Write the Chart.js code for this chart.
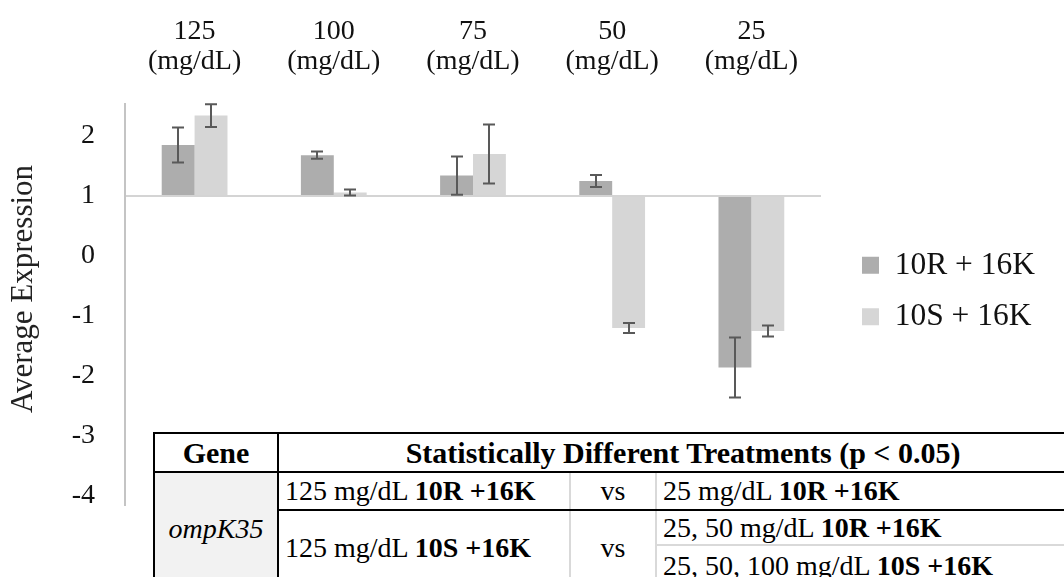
<!DOCTYPE html>
<html>
<head>
<meta charset="utf-8">
<script src="https://cdn.jsdelivr.net/npm/chart.js@4.4.1/dist/chart.umd.min.js"></script>
<style>
  html, body { margin: 0; padding: 0; background: #fff; }
  #wrap { position: relative; width: 1064px; height: 577px; overflow: hidden; background: #fff; }
  #chart { position: absolute; left: 0; top: 0; }
  #stats {
    position: absolute; left: 153px; top: 432px; width: 933px;
    border-collapse: collapse; table-layout: fixed;
    font-family: 'Liberation Serif', 'Times New Roman', serif; font-size: 28px; color: #000;
    background: #fff;
  }
  #stats th, #stats td { padding: 0 6px; line-height: 1; white-space: nowrap; overflow: hidden; }
  #stats th { font-weight: bold; font-size: 30px; text-align: center; border-top: 2px solid #000; border-bottom: 2px solid #000; }
  #stats .gene { border-left: 2px solid #000; border-right: 2px solid #000; text-align: center; }
  #stats td.gene { background: #f2f2f2; font-style: italic; }
  #stats .vs { text-align: center; border-left: 2px solid #d9d9d9; border-right: 2px solid #d9d9d9; }
  #stats .r1 td { border-bottom: 2px solid #000; }
  #stats .split { border-bottom: 2px solid #d9d9d9; }
</style>
</head>
<body>
<div id="wrap">
  <canvas id="chart" width="1064" height="577"></canvas>
  <table id="stats">
    <colgroup><col style="width:124px"><col style="width:292px"><col style="width:86px"><col style="width:431px"></colgroup>
    <tr style="height:39px"><th class="gene">Gene</th><th colspan="3">Statistically Different Treatments (p &lt; 0.05)</th></tr>
    <tr class="r1" style="height:38px">
      <td class="gene" rowspan="3" style="border-bottom:none">ompK35</td>
      <td>125 mg/dL <b>10R +16K</b></td><td class="vs">vs</td><td>25 mg/dL <b>10R +16K</b></td>
    </tr>
    <tr style="height:35px">
      <td rowspan="2">125 mg/dL <b>10S +16K</b></td><td class="vs" rowspan="2">vs</td><td class="split">25, 50 mg/dL <b>10R +16K</b></td>
    </tr>
    <tr style="height:40px"><td>25, 50, 100 mg/dL <b>10S +16K</b></td></tr>
  </table>
</div>
<script>
document.addEventListener('DOMContentLoaded', function () {

    const serif = "'Liberation Serif', 'Times New Roman', serif";

    // glucose concentrations, one group of bars each
    const concentrations = ['125', '100', '75', '50', '25'];
    const unitLabel = '(mg/dL)';

    const series10R = [1.85, 1.68, 1.34, 1.25, -1.86];
    const err10R = [0.29, 0.06, 0.32, 0.10, 0.50];

    const series10S = [2.34, 1.06, 1.70, -1.20, -1.25];
    const err10S = [0.19, 0.05, 0.49, 0.085, 0.09];

    const yTickValues = [2, 1, 0, -1, -2, -3, -4];

    // bars hang from 1 (no change), so that is where the axis crosses
    const baseline = 1;

    const errorBars = {
        id: 'errorBars',
        afterDatasetsDraw(chart) {
            const ctx = chart.ctx;
            const y = chart.scales.y;
            ctx.save();
            ctx.strokeStyle = '#595959';
            ctx.lineWidth = 2;
            chart.data.datasets.forEach((ds, i) => {
                const meta = chart.getDatasetMeta(i);
                meta.data.forEach((bar, j) => {
                    const v = ds.data[j];
                    const e = ds.errors[j];
                    const top = y.getPixelForValue(v + e);
                    const bottom = y.getPixelForValue(v - e);
                    const x = Math.round(bar.x);
                    ctx.beginPath();
                    ctx.moveTo(x, top);
                    ctx.lineTo(x, bottom);
                    ctx.moveTo(x - 6, top);
                    ctx.lineTo(x + 6, top);
                    ctx.moveTo(x - 6, bottom);
                    ctx.lineTo(x + 6, bottom);
                    ctx.stroke();
                });
            });
            ctx.restore();
        }
    };

    // move the legend over, level with the lower half of the bars
    const legendShift = {
        id: 'legendShift',
        afterLayout(chart) {
            const lg = chart.legend;
            lg.left += 21; lg.right += 21;
            lg.top += 30; lg.bottom += 30;
        }
    };

    const data = {
        labels: concentrations.map(c => [c, unitLabel]),
        datasets: [{
            label: '10R + 16K',
            data: series10R,
            errors: err10R,
            backgroundColor: '#adadad',
            borderWidth: 0,
            base: baseline,
            barPercentage: 1,
            categoryPercentage: 0.4725
        },
        {
            label: '10S + 16K',
            data: series10S,
            errors: err10S,
            backgroundColor: '#d6d6d6',
            borderWidth: 0,
            base: baseline,
            barPercentage: 1,
            categoryPercentage: 0.4725
        }]
    };

    const config = {
        type: 'bar',
        data: data,
        options: {
            responsive: false,
            animation: false,
            layout: { padding: { top: 17, left: 5, right: 40, bottom: 72 } },
            plugins: {
                tooltip: { enabled: false },
                legend: {
                    position: 'right',
                    labels: {
                        boxWidth: 17,
                        boxHeight: 17,
                        padding: 20,
                        color: '#111',
                        font: { family: serif, size: 31.5 }
                    }
                }
            },
            scales: {
                x: {
                    position: 'top',
                    afterFit: scale => { scale.height = 87; },
                    grid: { display: false, drawTicks: false },
                    border: { display: false },
                    ticks: {
                        padding: 28,
                        maxRotation: 0,
                        autoSkip: false,
                        color: '#111',
                        font: { family: serif, size: 28, lineHeight: 1.05 }
                    }
                },
                y: {
                    min: -4.15,
                    max: 2.533,
                    afterBuildTicks: scale => {
                        scale.ticks = yTickValues.map(v => ({ value: v }));
                    },
                    afterFit: scale => { scale.width = 120; },
                    grid: {
                        drawTicks: false,
                        lineWidth: 2,
                        color: c => (c.tick && c.tick.value === baseline) ? '#d4d4d4' : 'rgba(0,0,0,0)'
                    },
                    border: { color: '#c4c4c4', width: 2 },
                    ticks: {
                        padding: 30,
                        color: '#111',
                        font: { family: serif, size: 28 }
                    },
                    title: {
                        display: true,
                        // leading spaces lift the rotated title a little above the axis middle
                        text: '    Average Expression',
                        padding: 0,
                        color: '#222',
                        font: { family: serif, size: 31 }
                    }
                }
            }
        },
        plugins: [errorBars, legendShift]
    };

    const chart = new Chart(document.getElementById('chart'), config);

}, false);
</script>
</body>
</html>
